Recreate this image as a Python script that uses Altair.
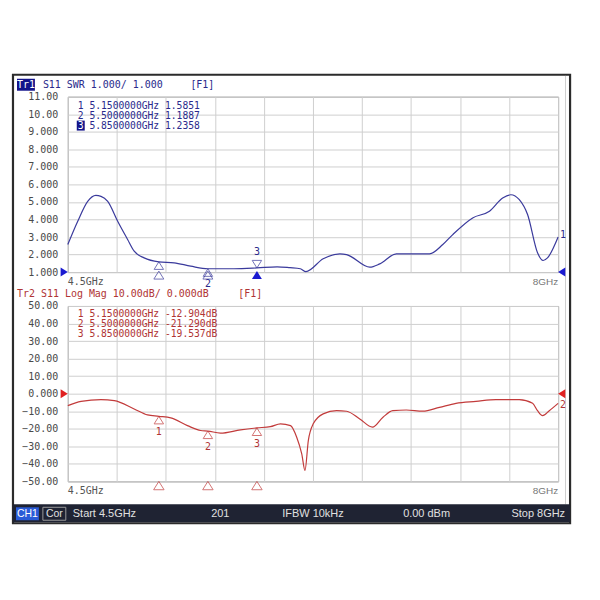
import altair as alt
import pandas as pd

# ---------------- data ----------------
freq_swr = [4.5, 4.571, 4.642, 4.70, 4.737, 4.785, 4.856, 4.927, 4.974, 5.045,
            5.15, 5.259, 5.377, 5.5, 5.685, 5.85, 5.994, 6.086, 6.16, 6.20,
            6.323, 6.442, 6.49, 6.656, 6.727, 6.845, 6.988, 7.082, 7.177, 7.248,
            7.39, 7.51, 7.604, 7.663, 7.723, 7.782, 7.853, 7.893, 7.924, 8.0]
swr = [2.57, 3.9, 5.03, 5.37, 5.32, 5.03, 3.9, 2.86, 2.19, 1.81,
       1.585, 1.53, 1.34, 1.19, 1.19, 1.236, 1.30, 1.25, 1.19, 1.03,
       1.76, 2.04, 2.0, 1.28, 1.47, 2.04, 2.04, 2.04, 2.57, 3.14,
       4.09, 4.47, 5.22, 5.41, 5.13, 4.28, 2.10, 1.66, 1.81, 3.0]

freq_db = [4.5, 4.595, 4.737, 4.832, 4.974, 5.069, 5.15, 5.235, 5.354, 5.449,
           5.5, 5.59, 5.733, 5.85, 5.946, 6.018, 6.09, 6.134, 6.17, 6.193,
           6.217, 6.252, 6.323, 6.419, 6.49, 6.584, 6.675, 6.75, 6.82, 6.916,
           7.034, 7.153, 7.271, 7.414, 7.556, 7.723, 7.818, 7.853, 7.889, 7.937, 8.0]
db = [-6.8, -4.4, -3.4, -4.0, -8.7, -12.1, -12.9, -13.8, -18.2, -21.0,
      -21.3, -22.5, -20.6, -19.5, -18.8, -17.2, -18.2, -24.8, -34.3, -43.8,
      -26.7, -17.2, -11.5, -9.7, -10.0, -14.4, -19.1, -13.4, -9.7, -9.3,
      -10.0, -7.8, -5.5, -4.4, -3.4, -3.4, -5.5, -9.7, -12.5, -9.7, -5.5]

mk_freq = [5.15, 5.5, 5.85]
mk_swr = [1.5851, 1.1887, 1.2358]
mk_db = [-12.904, -21.290, -19.537]
mk_names = ["1", "2", "3"]

swr_table = ["1 5.1500000GHz 1.5851", "2 5.5000000GHz 1.1887", "5.8500000GHz 1.2358"]
db_table = ["1 5.1500000GHz -12.904dB", "2 5.5000000GHz -21.290dB", "3 5.8500000GHz -19.537dB"]

x_grid = [4.5, 4.85, 5.2, 5.55, 5.9, 6.25, 6.6, 6.95, 7.3, 7.65, 8.0]
swr_ticks = [1, 2, 3, 4, 5, 6, 7, 8, 9, 10, 11]
db_ticks = [-50, -40, -30, -20, -10, 0, 10, 20, 30, 40, 50]

# ---------------- styling ----------------
MONO = "DejaVu Sans Mono"
SANS = "Liberation Sans"
BLUE = "#3a3a9c"
BLUE_T = "#2a2a8c"
RED = "#c23b3b"
RED_T = "#b03434"
W, H = 492, 176

one = pd.DataFrame({"k": [0]})
up_tri = "M0,0L1,1.6L-1,1.6Z"
down_tri = "M0,0L1,-1.6L-1,-1.6Z"
right_arrow = "M0,0L-1.6,-1L-1.6,1Z"
left_arrow = "M0,0L1.6,-1L1.6,1Z"


def label(text, x, y, color, size=10, font=MONO, align="left", weight="normal"):
    return alt.Chart(one).mark_text(
        text=text, align=align, baseline="middle", font=font,
        fontSize=size, color=color, fontWeight=weight
    ).encode(x=alt.value(x), y=alt.value(y))


def box(x, x2, y, y2, fill="white", fill_opacity=1.0, stroke=None, sw=0.0, opacity=1.0):
    props = dict(fill=fill, fillOpacity=fill_opacity, opacity=opacity)
    if stroke is not None:
        props.update(stroke=stroke, strokeWidth=sw)
    return alt.Chart(one).mark_rect(**props).encode(
        x=alt.value(x), x2=alt.value(x2), y=alt.value(y), y2=alt.value(y2))


xscale = alt.Scale(domain=[4.5, 8.0], nice=False, zero=False)
xaxis = alt.Axis(values=x_grid, labels=False, ticks=False, domain=False, title=None,
                 grid=True)
X = alt.X("f:Q", scale=xscale, axis=xaxis)

Y_top = alt.Y("v:Q", scale=alt.Scale(domain=[1, 11], nice=False, zero=False),
              axis=alt.Axis(values=swr_ticks, title=None, ticks=False, domain=False,
                            labelPadding=10,
                            labelExpr="datum.value >= 10 ? format(datum.value, '.2f') : format(datum.value, '.3f')"))
Y_bot = alt.Y("v:Q", scale=alt.Scale(domain=[-50, 50], nice=False, zero=False),
              axis=alt.Axis(values=db_ticks, title=None, ticks=False, domain=False,
                            labelPadding=10,
                            labelExpr="abs(datum.value) >= 10 ? format(datum.value, '.2f') : format(datum.value, '.3f')"))

swr_df = pd.DataFrame({"f": freq_swr, "v": swr})
db_df = pd.DataFrame({"f": freq_db, "v": db})
mk_top = pd.DataFrame({"f": mk_freq, "v": mk_swr, "n": mk_names})
mk_bot = pd.DataFrame({"f": mk_freq, "v": mk_db, "n": mk_names})
ref_top = pd.DataFrame({"v": [1.0]})
ref_bot = pd.DataFrame({"v": [0.0]})
end_top = pd.DataFrame({"f": [freq_swr[-1]], "v": [swr[-1]], "n": ["1"]})
end_bot = pd.DataFrame({"f": [freq_db[-1]], "v": [db[-1]], "n": ["2"]})
xlab = pd.DataFrame({"f": [4.5, 8.0], "t": ["4.5GHz", "8GHz"]})

# ---------------- top panel (SWR) ----------------
top_layers = [
    # page extent (invisible) so the whole chart is 584x584
    box(-59, 525, -87, 497, opacity=0),
    # instrument frame
    box(-55, 504, -22, 428, fill="white", fill_opacity=0, stroke="#2b2b2b", sw=2.2),
    box(499, 499.5, -21, 409, fill="#a0a0a0"),
    # status bar
    box(-55, 504, 409, 427, fill="#1f2333"),
    box(-52, -29, 412, 425, fill="#2a5bd7"),
    box(-25, -2, 412, 425, fill="#1f2333", stroke="#9a9a9a", sw=1),
    label("CH1", -40.5, 419, "white", 10.5, SANS, "center"),
    label("Cor", -13.5, 419, "#e0e0e0", 10.5, SANS, "center"),
    label("Start 4.5GHz", 5, 419, "#e0e0e0", 11, SANS),
    label("201", 153, 419, "#e0e0e0", 11, SANS, "center"),
    label("IFBW 10kHz", 246, 419, "#e0e0e0", 11, SANS, "center"),
    label("0.00 dBm", 360, 419, "#e0e0e0", 11, SANS, "center"),
    label("Stop 8GHz", 499, 419, "#e0e0e0", 11, SANS, "right"),
    # header
    box(-51, -33, -18, -6, fill="#13138a"),
    label("Tr1", -42, -12, "white", 10, MONO, "center"),
    label("S11 SWR 1.000/ 1.000", -25, -12, BLUE_T),
    label("[F1]", 123, -12, BLUE_T),
    # marker table
    label(swr_table[0], 10, 9, BLUE_T, 9.7),
    label(swr_table[1], 10, 19, BLUE_T, 9.7),
    box(9, 17, 24, 34, fill="#13138a"),
    label("3", 13, 29, "white", 9.7, MONO, "center"),
    label(swr_table[2], 21.7, 29, BLUE_T, 9.7),
    # trace
    alt.Chart(swr_df).mark_line(color=BLUE, strokeWidth=1.2, interpolate="monotone").encode(x=X, y=Y_top),
    # markers 1, 2 (up triangles) and 3 (down triangle)
    alt.Chart(mk_top).transform_filter("datum.n != '3'").mark_point(
        shape=up_tri, size=90, filled=False, color=BLUE, strokeWidth=1).encode(x=X, y=Y_top),
    alt.Chart(mk_top).transform_filter("datum.n == '3'").mark_point(
        shape=down_tri, size=90, filled=False, color=BLUE, strokeWidth=1).encode(x=X, y=Y_top),
    alt.Chart(mk_top).transform_filter("datum.n == '2'").mark_text(
        font=MONO, fontSize=10, color=BLUE_T, dy=15).encode(x=X, y=Y_top, text="n:N"),
    alt.Chart(mk_top).transform_filter("datum.n == '3'").mark_text(
        font=MONO, fontSize=10, color=BLUE_T, dy=-16).encode(x=X, y=Y_top, text="n:N"),
    # stimulus markers under the axis
    alt.Chart(mk_top).transform_filter("datum.n != '3'").mark_point(
        shape=up_tri, size=100, filled=False, color=BLUE, strokeWidth=1).encode(x=X, y=alt.value(H - 1)),
    alt.Chart(mk_top).transform_filter("datum.n == '3'").mark_point(
        shape=up_tri, size=100, filled=True, color="#1a1ad0", opacity=1).encode(x=X, y=alt.value(H - 1)),
    # reference arrows
    alt.Chart(ref_top).mark_point(shape=right_arrow, size=81, filled=True, color="#1a1ad0", opacity=1).encode(
        x=alt.value(0), y=Y_top),
    alt.Chart(ref_top).mark_point(shape=left_arrow, size=81, filled=True, color="#1a1ad0", opacity=1).encode(
        x=alt.value(W), y=Y_top),
    alt.Chart(end_top).mark_text(font=MONO, fontSize=10, color=BLUE_T, align="left", dx=2, dy=-2).encode(
        x=X, y=Y_top, text="n:N"),
    # axis end labels
    alt.Chart(xlab).transform_filter("datum.f < 5").mark_text(
        font=MONO, fontSize=10, color="#555", align="left", baseline="middle").encode(
        x=X, y=alt.value(186), text="t:N"),
    alt.Chart(xlab).transform_filter("datum.f > 5").mark_text(
        font=SANS, fontSize=10, color="#777", align="right", baseline="middle").encode(
        x=X, y=alt.value(186), text="t:N"),
]
top = alt.layer(*top_layers).properties(width=W, height=H)

# ---------------- bottom panel (Log Mag) ----------------
bot_layers = [
    label("Tr2 S11 Log Mag 10.00dB/ 0.000dB", -51, -12, RED_T),
    label("[F1]", 171, -12, RED_T),
    label(db_table[0], 10, 8.5, RED_T, 9.7),
    label(db_table[1], 10, 18.5, RED_T, 9.7),
    label(db_table[2], 10, 28.5, RED_T, 9.7),
    alt.Chart(db_df).mark_line(color=RED, strokeWidth=1.2, interpolate="monotone").encode(x=X, y=Y_bot),
    alt.Chart(mk_bot).mark_point(shape=up_tri, size=90, filled=False, color=RED, strokeWidth=1).encode(
        x=X, y=Y_bot),
    alt.Chart(mk_bot).mark_text(font=MONO, fontSize=10, color=RED_T, dy=16).encode(
        x=X, y=Y_bot, text="n:N"),
    alt.Chart(mk_bot).mark_point(shape=up_tri, size=110, filled=False, color=RED, strokeWidth=1).encode(
        x=X, y=alt.value(H)),
    alt.Chart(ref_bot).mark_point(shape=right_arrow, size=81, filled=True, color="#e02020", opacity=1).encode(
        x=alt.value(0), y=Y_bot),
    alt.Chart(ref_bot).mark_point(shape=left_arrow, size=81, filled=True, color="#e02020", opacity=1).encode(
        x=alt.value(W), y=Y_bot),
    alt.Chart(end_bot).mark_text(font=MONO, fontSize=10, color=RED_T, align="left", dx=2, dy=2).encode(
        x=X, y=Y_bot, text="n:N"),
    alt.Chart(xlab).transform_filter("datum.f < 5").mark_text(
        font=MONO, fontSize=10, color="#555", align="left", baseline="middle").encode(
        x=X, y=alt.value(186), text="t:N"),
    alt.Chart(xlab).transform_filter("datum.f > 5").mark_text(
        font=SANS, fontSize=10, color="#777", align="right", baseline="middle").encode(
        x=X, y=alt.value(186), text="t:N"),
]
bottom = alt.layer(*bot_layers).properties(width=W, height=H)

chart = alt.vconcat(top, bottom, spacing=34, bounds="flush").properties(
    padding=0, background="white"
).configure_view(
    stroke="#8a8a8a", strokeWidth=1
).configure_axis(
    labelFont=MONO, labelFontSize=10, labelColor="#4a4a4a",
    gridColor="#cfcfcf", gridWidth=1
)

chart.save("out.html", embed_options={"renderer": "svg", "actions": False})
